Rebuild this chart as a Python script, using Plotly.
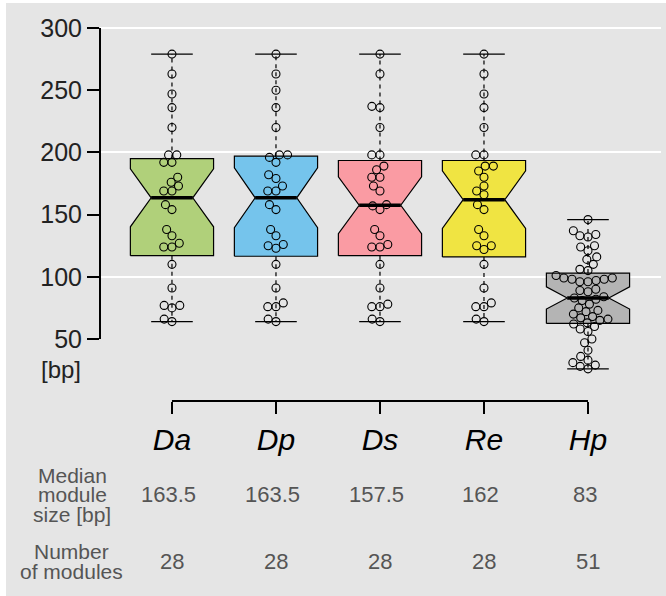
import numpy as np
import plotly.graph_objects as go

# ---------------- data ----------------
categories = ["Da", "Dp", "Ds", "Re", "Hp"]
da_values = [279, 263, 247, 236, 220, 198, 198, 192, 192, 180, 176, 173, 169, 169,
             158, 154, 138, 133, 127, 124, 124, 110, 91, 77, 77, 75, 66, 64]
dp_values = [279, 263, 250, 236, 220, 198, 198, 196, 192, 182, 179, 173, 169, 169,
             158, 154, 138, 133, 126, 125, 123, 110, 91, 79, 76, 76, 66, 64]
ds_values = [279, 263, 237, 236, 220, 198, 198, 189, 186, 180, 180, 173, 169, 158,
             157, 154, 138, 133, 126, 124, 124, 110, 91, 78, 76, 76, 66, 64]
re_values = [279, 263, 247, 236, 220, 198, 198, 189, 189, 185, 180, 173, 169, 166,
             158, 154, 138, 133, 125, 125, 122, 110, 91, 79, 76, 76, 66, 64]
hp_values = [146, 137, 134, 133, 132, 125, 124, 121, 116, 114, 110, 106, 105,
             101, 99, 99, 98, 98, 97, 96, 96, 90, 89, 88, 84, 83,
             82, 81, 78, 75, 73, 72, 70, 68, 67, 66, 65, 63, 62, 60, 58, 56,
             50, 47, 41, 36, 33, 31, 29, 28, 26]
series = [da_values, dp_values, ds_values, re_values, hp_values]
fill_colors = ["#B0D07A", "#75C4EC", "#FA9BA3", "#F0E442", "#B4B4B4"]
median_labels = ["163.5", "163.5", "157.5", "162", "83"]
count_labels = ["28", "28", "28", "28", "51"]
y_tick_values = [50, 100, 150, 200, 250, 300]
grid_values = [100, 200, 300]

# ---------------- layout constants (pixels) ----------------
W, H = 666, 596
PL, PR = 100, 661          # plot area left / right
PT, PB = 20, 401           # plot area top / bottom
X_RANGE = [-0.692, 4.702]
XPX = (PR - PL) / (X_RANGE[1] - X_RANGE[0])
YPX = 1.244                # pixels per bp
Y_TOP = 300 + (28 - PT) / YPX
Y_RANGE = [Y_TOP - (PB - PT) / YPX, Y_TOP]

FONT = "Liberation Sans, Arial, Helvetica, sans-serif"
BG = "#E5E5E5"

def py2paper(py):
    return (PB - py) / (PB - PT)

def px2paper(px):
    return (px - PL) / (PR - PL)

def fivenum(v):
    v = np.sort(np.asarray(v, float))
    n = len(v)
    n4 = np.floor((n + 3) / 2) / 2
    d = np.array([1, n4, (n + 1) / 2, n + 1 - n4, n]) - 1
    return 0.5 * (v[np.floor(d).astype(int)] + v[np.ceil(d).astype(int)])

def swarm(vals, diam):
    ys = np.asarray(vals, float) * YPX
    out = np.zeros(len(ys))
    placed = []
    for i in np.argsort(vals, kind="stable"):
        y = ys[i]
        cands = [0.0]
        for (px, py) in placed:
            dy = abs(py - y)
            if dy < diam:
                dx = np.sqrt(diam * diam - dy * dy)
                cands += [px - dx, px + dx]
        cands.sort(key=lambda c: (abs(c), c))
        for c in cands:
            if all((c - px) ** 2 + (y - py) ** 2 >= diam * diam - 1e-6 for px, py in placed):
                out[i] = c
                break
        placed.append((out[i], y))
    return out / XPX

fig = go.Figure()
HW = 0.4      # box half width
NW = 0.2      # notch half width
CW = 0.2      # cap half width

for i, (vals, col) in enumerate(zip(series, fill_colors)):
    v = np.asarray(vals, float)
    mn, q1, med, q3, mx = fivenum(v)
    iqr = q3 - q1
    lo = v[v >= q1 - 1.5 * iqr].min()
    hi = v[v <= q3 + 1.5 * iqr].max()
    ns = 1.58 * iqr / np.sqrt(len(v))
    nlo, nhi = med - ns, med + ns
    # whiskers (dashed)
    fig.add_trace(go.Scatter(x=[i, i, None, i, i], y=[q3, hi, None, q1, lo], mode="lines",
                             line=dict(color="black", width=1.2, dash="4px,4px"),
                             hoverinfo="skip", showlegend=False))
    # caps
    fig.add_trace(go.Scatter(x=[i - CW, i + CW, None, i - CW, i + CW], y=[hi, hi, None, lo, lo],
                             mode="lines", line=dict(color="black", width=1.2),
                             hoverinfo="skip", showlegend=False))
    # notched box
    bx = [i - HW, i - HW, i - NW, i - HW, i - HW, i + HW, i + HW, i + NW, i + HW, i + HW, i - HW]
    by = [q1, nlo, med, nhi, q3, q3, nhi, med, nlo, q1, q1]
    fig.add_trace(go.Scatter(x=bx, y=by, mode="lines", fill="toself", fillcolor=col,
                             line=dict(color="black", width=1.2),
                             hoverinfo="skip", showlegend=False))
    # median
    fig.add_trace(go.Scatter(x=[i - NW, i + NW], y=[med, med], mode="lines",
                             line=dict(color="black", width=3.5),
                             hoverinfo="skip", showlegend=False))
    # points (beeswarm)
    offs = swarm(v, 8.2)
    fig.add_trace(go.Scatter(x=i + offs, y=v, mode="markers",
                             marker=dict(symbol="circle-open", size=8, color="black",
                                         line=dict(width=1.1, color="black")),
                             showlegend=False, name=categories[i]))

# axis lines (R style brackets)
fig.add_shape(type="line", xref="paper", yref="y", x0=0, x1=0,
              y0=y_tick_values[0], y1=y_tick_values[-1], line=dict(color="black", width=2))
fig.add_shape(type="line", xref="x", yref="paper", x0=0, x1=len(categories) - 1,
              y0=0, y1=0, line=dict(color="black", width=2))
# white border round the grey panel
fig.add_shape(type="rect", xref="paper", yref="paper", layer="below",
              x0=px2paper(6), x1=px2paper(W + 5), y0=py2paper(3), y1=py2paper(H + 5),
              fillcolor=BG, line=dict(width=0))

def ann(text, x, y, xref="paper", size=22, color="#555555"):
    return dict(text=text, xref=xref, yref="paper", x=x, y=y, xanchor="center",
                yanchor="middle", showarrow=False,
                font=dict(size=size, color=color, family=FONT))

annotations = [ann("[bp]", px2paper(61), py2paper(369), size=24, color="#222222")]
for txt, py in zip(["Median", "module", "size [bp]"], [475, 494.5, 514]):
    annotations.append(ann(txt, px2paper(72), py2paper(py), size=21))
for txt, py in zip(["Number", "of modules"], [551, 571]):
    annotations.append(ann(txt, px2paper(71), py2paper(py), size=21))
for i, (m, c) in enumerate(zip(median_labels, count_labels)):
    annotations.append(ann(m, i - 0.03, py2paper(494.5), xref="x"))
    annotations.append(ann(c, i, py2paper(561), xref="x"))

fig.update_layout(
    width=W, height=H,
    margin=dict(l=PL, r=W - PR, t=PT, b=H - PB, pad=0),
    paper_bgcolor="white", plot_bgcolor=BG,
    font=dict(family=FONT, color="#222222"),
    annotations=annotations,
    xaxis=dict(range=X_RANGE, tickmode="array", tickvals=list(range(len(categories))),
               ticktext=[f"<i>{c}</i>" for c in categories], ticks="outside", ticklen=12,
               tickwidth=2, tickcolor="black", showgrid=False, zeroline=False, showline=False,
               tickfont=dict(size=30, color="black", family=FONT), ticklabelstandoff=0,
               fixedrange=True),
    yaxis=dict(range=Y_RANGE, tickmode="array", tickvals=y_tick_values, ticks="outside",
               ticklen=12, tickwidth=2, tickcolor="black", showgrid=False, zeroline=False,
               showline=False, tickfont=dict(size=25, color="#222222", family=FONT),
               minor=dict(tickmode="array", tickvals=grid_values, showgrid=True,
                          gridcolor="white", gridwidth=2, ticks=""),
               fixedrange=True),
)

fig.write_html("out.html", config={"displayModeBar": False},
               post_script="document.body.style.margin='0px';")
